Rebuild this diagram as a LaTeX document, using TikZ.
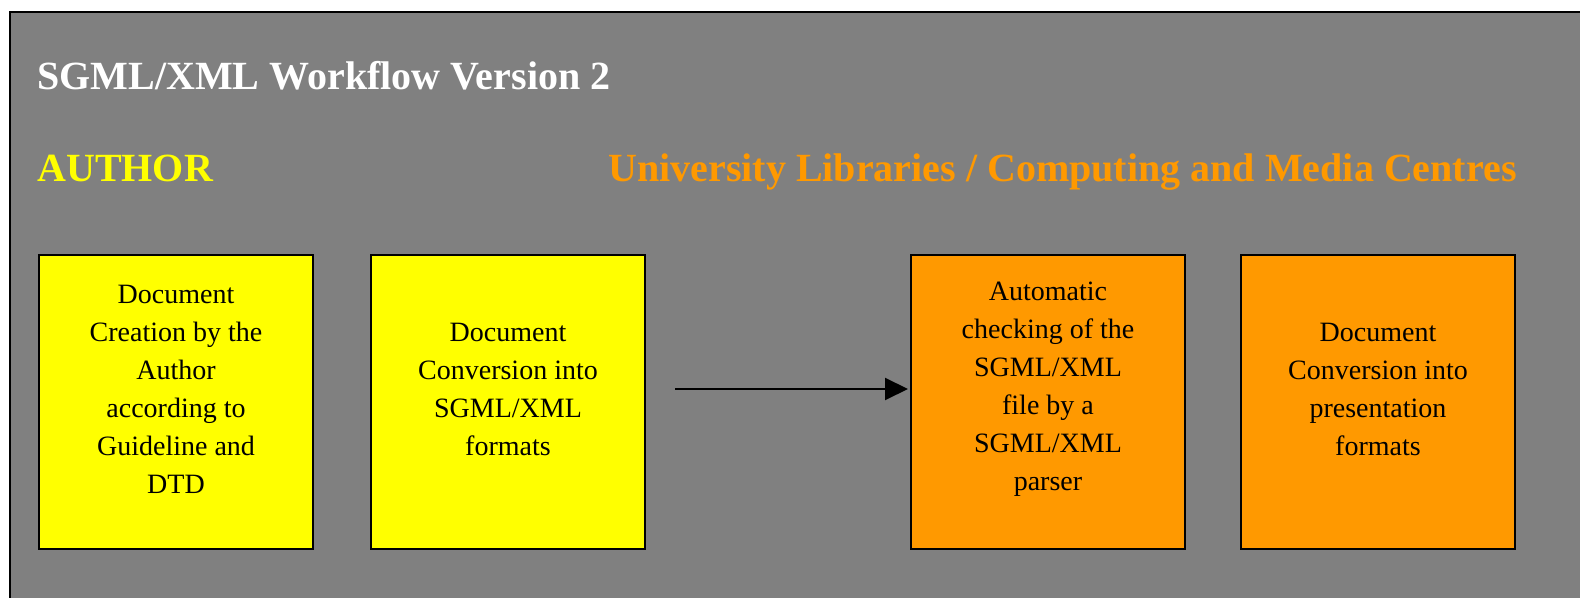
\documentclass[tikz,border=0pt]{standalone}
\usepackage{fontspec}
\setmainfont{Liberation Serif}
\usetikzlibrary{arrows.meta}
\definecolor{bggray}{HTML}{808080}
\definecolor{authyellow}{HTML}{FFFF00}
\definecolor{uniorange}{HTML}{FF9900}
\begin{document}
\begin{tikzpicture}[x=0.5pt,y=-0.5pt,
	  head/.style={anchor=base west,inner sep=0pt,font=\fontsize{20pt}{24pt}\selectfont\bfseries},
	  stagebox/.style={draw=black,line width=1pt,minimum width=137pt,minimum height=147pt,inner sep=0pt,anchor=north west},
	  stagetext/.style={align=center,inner sep=0pt,font=\fontsize{14pt}{19pt}\selectfont}]
	  \useasboundingbox (0,0) rectangle (1580,598);
	  \fill [bggray] (10,12) rectangle (1580,598);
	  \draw [line width=1.25pt] (10,598) -- (10,12) -- (1580,12);

	  % Headings
	  \node [head,text=white] (title) at (37,90) {SGML/XML Workflow Version 2};
	  \node [head,text=authyellow] (author) at (37,182) {AUTHOR};
	  \node [head,text=uniorange] (uni) at (608,182) {University Libraries / Computing and Media Centres};

	  % Stages
	  \node [stagebox,fill=authyellow] (create) at (38,254) {};
	  \node [stagebox,fill=authyellow] (convsgml) at (370,254) {};
	  \node [stagebox,fill=uniorange] (check) at (910,254) {};
	  \node [stagebox,fill=uniorange] (convpres) at (1240,254) {};
	  \node [stagetext] (createtxt) at ([yshift=6.5pt]create.center) {Document\\Creation by the\\Author\\according to\\Guideline and\\DTD};
	  \node [stagetext] (convsgmltxt) at ([yshift=6.5pt]convsgml.center) {Document\\Conversion into\\SGML/XML\\formats};
	  \node [stagetext] (checktxt) at ([yshift=6.5pt]check.center) {Automatic\\checking of the\\SGML/XML\\file by a\\SGML/XML\\parser};
	  \node [stagetext] (convprestxt) at ([yshift=6.5pt]convpres.center) {Document\\Conversion into\\presentation\\formats};

	  \draw [line width=1pt,-{Triangle[length=11.5pt,width=11pt]},shorten <=14.5pt,shorten >=1pt] ([yshift=6.5pt]convsgml.east) -- ([yshift=6.5pt]check.west);
	 \end{tikzpicture}
\end{document}
